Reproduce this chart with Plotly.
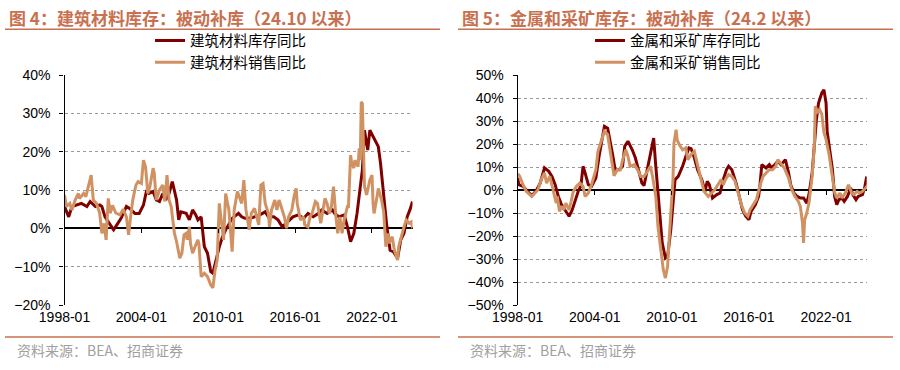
import plotly.graph_objects as go

# ---------------- data ----------------
TICK_DATES = ["1998-01-01", "2004-01-01", "2010-01-01", "2016-01-01", "2022-01-01"]
TICK_TEXT = ["1998-01", "2004-01", "2010-01", "2016-01", "2022-01"]
X_START = "1998-01-01"
X_END = "2025-03-01"

# 图4 建筑材料 库存同比 (%)
INV_L_DATES = ["1998-01","1998-05","1998-08","1999-05","1999-10","2000-01","2000-06","2000-10","2000-12","2001-03",
               "2001-07","2001-11","2002-02","2002-06","2002-11","2003-02","2003-07","2003-11","2004-03","2004-06",
               "2004-08","2004-12","2005-03","2005-06","2005-09","2005-12","2006-03","2006-06","2006-10","2006-12",
               "2007-02","2007-07","2007-10","2008-01","2008-04","2008-06","2008-09","2008-12","2009-03","2009-06",
               "2009-08","2009-11","2010-02","2010-05","2010-08","2011-02","2011-08","2011-11","2012-02","2012-07",
               "2012-12","2013-04","2013-09","2013-12","2014-05","2014-09","2015-01","2015-03","2015-07","2015-11",
               "2016-04","2016-09","2017-01","2017-06","2017-11","2018-02","2018-07","2018-12","2019-02","2019-06",
               "2019-11","2020-02","2020-05","2020-08","2020-11","2021-02","2021-04","2021-06","2021-09","2021-11",
               "2022-02","2022-05","2022-07","2022-09","2022-12","2023-03","2023-06","2023-09","2024-01","2024-04",
               "2024-07","2024-10","2025-01","2025-03"]
INV_L = [5.7,3.0,5.7,6.5,5.7,7.0,5.7,6.1,5.7,3.0,
         1.3,-0.4,0.9,2.6,5.7,5.2,3.9,3.9,6.1,10.0,
         9.1,9.6,7.4,7.0,9.1,7.4,9.1,12.2,7.4,2.2,
         4.3,3.9,2.2,4.8,3.5,2.2,3.0,-4.8,-6.5,-11.3,
         -11.7,-7.8,-4.8,-2.2,-0.4,2.6,3.9,3.0,2.6,2.6,
         3.0,3.5,4.3,3.0,3.0,2.2,0.4,0.9,2.2,3.0,
         3.5,2.6,3.9,3.0,3.9,4.8,3.9,4.8,3.9,3.0,
         3.5,0.4,-3.5,-1.3,3.9,10.0,15.2,25.6,20.4,25.6,
         23.9,22.2,21.3,17.0,8.3,0.4,-5.7,-6.1,-7.8,-3.0,
         -1.3,3.0,5.2,7.0]

# 图4 建筑材料 销售同比 (%)
SAL_L_DATES = ["1998-01","1998-03","1998-06","1998-08","1998-11","1999-02","1999-03","1999-07","1999-09","1999-11",
               "2000-02","2000-04","2000-07","2000-10","2000-12","2001-02","2001-04","2001-06","2001-08","2001-10",
               "2002-01","2002-05","2002-08","2002-11","2003-01","2003-03","2003-05","2003-08","2003-10","2004-01",
               "2004-03","2004-05","2004-07","2004-09","2004-12","2005-01","2005-03","2005-06","2005-09","2005-11",
               "2006-01","2006-03","2006-05","2006-08","2006-10","2007-01","2007-03","2007-05","2007-07","2007-08",
               "2007-10","2007-11","2008-01","2008-04","2008-06","2008-07","2008-09","2008-12","2009-03","2009-06",
               "2009-08","2009-10","2009-12","2010-02","2010-04","2010-06","2010-08","2010-11","2011-02","2011-04",
               "2011-07","2011-09","2011-11","2012-01","2012-03","2012-06","2012-08","2012-11","2013-01","2013-03",
               "2013-05","2013-07","2013-09","2013-12","2014-01","2014-03","2014-06","2014-08","2014-10","2015-01",
               "2015-03","2015-05","2015-07","2015-10","2015-12","2016-02","2016-03","2016-06","2016-09","2016-10",
               "2017-01","2017-03","2017-05","2017-08","2017-10","2018-01","2018-03","2018-05","2018-07","2018-09",
               "2018-11","2019-01","2019-03","2019-05","2019-07","2019-09","2019-11","2020-02","2020-03","2020-05",
               "2020-06","2020-08","2020-09","2020-12","2021-01","2021-02","2021-03","2021-04","2021-06","2021-08",
               "2021-11","2022-01","2022-02","2022-03","2022-05","2022-07","2022-10","2022-12","2023-02","2023-04",
               "2023-05","2023-08","2023-10","2024-01","2024-02","2024-05","2024-07","2024-09","2024-12","2025-02",
               "2025-03"]
SAL_L = [8.7,5.7,6.5,4.8,7.4,9.1,7.8,9.1,8.3,10.9,
         13.9,7.4,6.5,3.9,-1.3,1.3,-3.0,7.8,4.0,6.0,
         4.0,3.5,5.0,3.0,-1.7,3.0,7.4,11.3,12.2,11.7,
         17.8,16.0,9.1,10.9,15.7,14.5,7.4,10.0,11.3,7.0,
         13.9,7.4,5.7,-1.3,-3.5,-7.8,-6.5,-1.7,-1.3,-3.0,
         0.4,-3.9,-6.5,-4.3,-3.0,-4.3,-12.6,-11.7,-12.6,-14.8,
         -15.5,-11.0,-8.3,6.5,2.2,-3.0,9.1,4.8,-6.1,4.8,
         9.6,7.8,6.5,12.6,4.8,-0.4,3.9,5.2,3.0,0.9,
         11.3,11.7,6.5,3.9,0.4,4.8,7.4,4.8,7.4,4.8,
         3.0,0.0,3.0,4.8,8.3,10.4,6.5,2.2,3.0,0.9,
         0.4,3.0,3.9,7.0,6.5,1.3,4.8,7.8,6.5,3.9,
         5.7,10.9,3.9,-1.3,3.0,-1.3,2.2,5.7,5.7,19.1,
         17.0,15.7,17.8,16.1,20.9,17.8,33.0,32.6,10.9,8.7,
         12.6,13.9,6.5,3.9,7.0,10.4,7.4,4.3,-4.8,-1.3,
         -3.9,-2.2,-5.7,-8.3,-4.8,-1.3,0.4,2.2,1.3,1.7,
         0.0]

# 图5 金属和采矿 库存同比 (%)
INV_R_DATES = ["1998-01","1998-02","1998-06","1998-09","1999-02","1999-06","1999-10","2000-02","2000-06","2000-09",
               "2000-12","2001-03","2001-06","2001-09","2002-01","2002-04","2002-07","2002-10","2002-12","2003-02",
               "2003-04","2003-07","2003-10","2004-02","2004-05","2004-08","2004-10","2005-01","2005-04","2005-06",
               "2005-08","2005-12","2006-03","2006-05","2006-08","2006-12","2007-03","2007-06","2007-09","2007-11",
               "2008-02","2008-05","2008-08","2008-10","2009-01","2009-04","2009-07","2009-09","2009-12","2010-02",
               "2010-04","2010-07","2010-11","2011-02","2011-05","2011-07","2011-10","2012-01","2012-05","2012-08",
               "2012-10","2012-12","2013-03","2013-07","2013-10","2014-01","2014-04","2014-06","2014-09","2015-01",
               "2015-04","2015-07","2015-10","2016-01","2016-03","2016-07","2016-10","2016-11","2017-01","2017-05",
               "2017-08","2017-10","2018-01","2018-04","2018-07","2018-11","2019-02","2019-04","2019-07","2019-10",
               "2020-01","2020-04","2020-07","2020-09","2020-12","2021-02","2021-04","2021-06","2021-09","2021-11",
               "2022-01","2022-02","2022-04","2022-07","2022-09","2022-11","2023-01","2023-04","2023-06","2023-09",
               "2023-12","2024-02","2024-05","2024-07","2024-11","2025-01","2025-03"]
INV_R = [5.2,2.3,1.6,0.1,-2.5,-0.6,3.0,9.6,8.1,5.9,
         2.3,-2.8,-6.4,-8.6,-11.4,-8.6,-4.2,0.1,1.6,10.3,
         7.4,2.3,1.6,5.2,14.6,21.9,27.7,26.9,20.4,14.6,
         8.8,8.8,10.3,19.0,21.2,17.5,13.9,8.8,3.0,1.9,
         8.8,16.8,22.6,10.3,-8.6,-23.0,-29.6,-28.9,-17.2,-5.7,
         4.5,5.9,10.3,14.6,18.3,18.0,14.0,8.8,4.5,-0.6,
         3.8,2.3,-3.5,-2.0,-1.3,4.5,8.8,10.3,8.8,3.0,
         -2.8,-8.6,-11.4,-12.9,-9.3,-6.4,-2.8,0.9,11.0,9.6,
         11.0,9.6,11.0,12.5,11.0,13.2,7.4,2.3,-1.3,-2.8,
         -3.5,-3.5,-5.7,-2.0,7.4,19.0,30.6,37.8,42.2,43.6,
         37.8,25.5,18.8,8.8,-2.8,-6.4,-4.2,-3.5,-4.9,-2.8,
         0.9,-2.0,-4.2,-2.8,-2.0,0.9,5.9]

# 图5 金属和采矿 销售同比 (%)
SAL_R_DATES = ["1998-01","1998-03","1998-06","1998-09","1999-02","1999-05","1999-08","1999-11","2000-02","2000-04",
               "2000-07","2000-10","2001-01","2001-02","2001-04","2001-06","2001-08","2001-10","2002-01","2002-03",
               "2002-05","2002-08","2002-11","2003-02","2003-04","2003-07","2003-10","2004-02","2004-04","2004-07",
               "2004-10","2005-01","2005-04","2005-06","2005-07","2005-10","2006-01","2006-03","2006-06","2006-08",
               "2006-10","2007-02","2007-05","2007-08","2007-11","2008-02","2008-05","2008-07","2008-10","2008-12",
               "2009-03","2009-05","2009-07","2009-09","2009-11","2010-02","2010-03","2010-05","2010-06","2010-08",
               "2010-11","2011-02","2011-04","2011-07","2011-10","2012-01","2012-04","2012-07","2012-11","2013-02",
               "2013-05","2013-08","2013-11","2014-01","2014-03","2014-06","2014-09","2014-12","2015-03","2015-06",
               "2015-09","2015-12","2016-02","2016-05","2016-08","2016-11","2017-02","2017-05","2017-08","2017-11",
               "2018-02","2018-04","2018-07","2018-10","2019-02","2019-05","2019-08","2019-11","2020-01","2020-03",
               "2020-04","2020-05","2020-07","2020-09","2020-12","2021-02","2021-03","2021-05","2021-07","2021-09",
               "2021-11","2022-01","2022-04","2022-07","2022-09","2022-11","2023-02","2023-04","2023-07","2023-10",
               "2024-01","2024-03","2024-06","2024-08","2024-11","2025-02","2025-03"]
SAL_R = [7.1,5.9,2.3,-0.6,-2.8,-1.3,0.1,4.5,7.4,3.0,
         5.9,0.1,-5.7,-2.8,-9.3,-7.1,-8.6,-5.7,-8.6,-4.9,
         -0.6,1.6,3.0,1.6,-2.8,-1.3,2.3,8.8,16.8,21.2,
         25.5,24.1,16.1,10.3,6.2,8.8,8.8,13.0,17.5,14.6,
         10.3,11.0,8.8,5.9,5.9,8.0,10.3,5.9,-2.8,-15.8,
         -25.9,-34.6,-38.3,-33.2,-17.2,4.5,20.4,26.2,21.7,19.7,
         17.5,18.3,13.2,15.5,16.8,10.3,5.2,-0.6,-2.8,-1.3,
         0.1,2.3,4.5,2.3,4.5,6.7,5.9,3.8,-1.3,-6.4,
         -10.0,-11.4,-8.6,-6.4,-4.2,1.6,5.9,7.4,8.8,8.8,
         10.3,13.2,11.6,9.6,5.2,0.1,-2.8,-4.9,-7.1,-14.3,
         -23.0,-13.0,-10.0,-5.7,5.9,19.0,36.4,34.0,35.0,33.0,
         25.0,22.0,15.0,5.0,-1.0,-3.5,-1.3,-3.5,-1.3,2.3,
         -1.3,-2.0,-0.6,-1.3,-0.6,0.9,1.6]

NAMES_L = ["建筑材料库存同比", "建筑材料销售同比"]
NAMES_R = ["金属和采矿库存同比", "金属和采矿销售同比"]
TITLE_L = "图 4：建筑材料库存：被动补库（24.10 以来）"
TITLE_R = "图 5：金属和采矿库存：被动补库（24.2 以来）"
SOURCE = "资料来源：BEA、招商证券"
Y_RANGE_L = [-20, 40]
Y_RANGE_R = [-50, 50]

# ---------------- style ----------------
W, H = 900, 370
DARK = "#800000"
TAN = "#D09262"
ACCENT = "#C8704F"
NUM_FONT = "Liberation Sans, Arial, sans-serif"
CJK_FONT = "Noto Sans CJK SC, sans-serif"


def px_x(p):
    return p / W


def px_y(p):
    return (H - p) / H


Y_DOM = [px_y(305), px_y(75)]
X_DOM_L = [px_x(64.5), px_x(412.5)]
X_DOM_R = [px_x(517.7), px_x(866.7)]


def d(lst):
    return [s + "-01" for s in lst]


fig = go.Figure()

fig.add_trace(go.Scatter(x=d(INV_L_DATES), y=INV_L, name=NAMES_L[0], mode="lines",
                         line=dict(color=DARK, width=3), xaxis="x", yaxis="y", legend="legend"))
fig.add_trace(go.Scatter(x=d(SAL_L_DATES), y=SAL_L, name=NAMES_L[1], mode="lines",
                         line=dict(color=TAN, width=3), xaxis="x", yaxis="y", legend="legend"))
fig.add_trace(go.Scatter(x=d(INV_R_DATES), y=INV_R, name=NAMES_R[0], mode="lines",
                         line=dict(color=DARK, width=3), xaxis="x2", yaxis="y2", legend="legend2"))
fig.add_trace(go.Scatter(x=d(SAL_R_DATES), y=SAL_R, name=NAMES_R[1], mode="lines",
                         line=dict(color=TAN, width=3), xaxis="x2", yaxis="y2", legend="legend2"))
# carriers for tick marks on the zero line
fig.add_trace(go.Scatter(x=TICK_DATES, y=[0] * len(TICK_DATES), mode="lines", opacity=0,
                         line=dict(width=0), xaxis="x3", yaxis="y", showlegend=False, hoverinfo="skip"))
fig.add_trace(go.Scatter(x=TICK_DATES, y=[0] * len(TICK_DATES), mode="lines", opacity=0,
                         line=dict(width=0), xaxis="x4", yaxis="y2", showlegend=False, hoverinfo="skip"))


def zero_pos(rng):
    return Y_DOM[0] + (0 - rng[0]) / (rng[1] - rng[0]) * (Y_DOM[1] - Y_DOM[0])


xbase = dict(type="date", range=[X_START, X_END], tickmode="array", tickvals=TICK_DATES,
             ticktext=TICK_TEXT, ticks="", showgrid=False, zeroline=False, showline=False,
             tickfont=dict(family=NUM_FONT, size=14, color="#000"), fixedrange=True,
             automargin=False, ticklabelstandoff=2)
xtick = dict(type="date", range=[X_START, X_END], tickmode="array", tickvals=TICK_DATES,
             showticklabels=False, ticks="outside", ticklen=4, tickwidth=1, tickcolor="#000",
             showgrid=False, zeroline=False, showline=False, anchor="free", automargin=False)
ybase = dict(dtick=10, ticksuffix="%", showline=True, linecolor="#000", linewidth=1.3,
             ticks="outside", ticklen=4, tickwidth=1, tickcolor="#000",
             showgrid=True, gridcolor="#9a9a9a", griddash="dot", gridwidth=1,
             zeroline=True, zerolinecolor="#000", zerolinewidth=1.5,
             tickfont=dict(family=NUM_FONT, size=14, color="#000"), ticklabelstandoff=6,
             domain=Y_DOM, fixedrange=True, automargin=False)

fig.update_layout(
    width=W, height=H, autosize=False,
    margin=dict(l=0, r=0, t=0, b=0, pad=0, autoexpand=False),
    paper_bgcolor="white", plot_bgcolor="white",
    hovermode=False,
    xaxis=dict(xbase, domain=X_DOM_L, anchor="y"),
    xaxis2=dict(xbase, domain=X_DOM_R, anchor="y2"),
    xaxis3=dict(xtick, overlaying="x", position=zero_pos(Y_RANGE_L)),
    xaxis4=dict(xtick, overlaying="x2", position=zero_pos(Y_RANGE_R)),
    yaxis=dict(ybase, range=Y_RANGE_L, anchor="x"),
    yaxis2=dict(ybase, range=Y_RANGE_R, anchor="x2"),
    legend=dict(x=px_x(150), y=px_y(24.5), xanchor="left", yanchor="top",
                bgcolor="rgba(0,0,0,0)", borderwidth=0,
                font=dict(family=CJK_FONT, size=14.5, color="#000")),
    legend2=dict(x=px_x(590), y=px_y(24.5), xanchor="left", yanchor="top",
                 bgcolor="rgba(0,0,0,0)", borderwidth=0,
                 font=dict(family=CJK_FONT, size=14.5, color="#000")),
    showlegend=True,
)

# titles, rules and source notes
for x0, x1, title in [(5, 440, TITLE_L), (458, 893, TITLE_R)]:
    fig.add_annotation(x=px_x(x0 + 1.5), y=px_y(17.5), xref="paper", yref="paper",
                       xanchor="left", yanchor="middle", showarrow=False,
                       text="<b>" + title + "</b>",
                       font=dict(family=CJK_FONT, size=17, color=ACCENT))
    fig.add_annotation(x=px_x(x0 + 10), y=px_y(350), xref="paper", yref="paper",
                       xanchor="left", yanchor="middle", showarrow=False,
                       text=SOURCE, font=dict(family=CJK_FONT, size=14, color="#a0a0a0"))
    for yy in (29.3, 337):
        fig.add_shape(type="line", xref="paper", yref="paper",
                      x0=px_x(x0), x1=px_x(x1), y0=px_y(yy), y1=px_y(yy),
                      line=dict(color=ACCENT, width=1.5))

# the figure fills the 900x370 window exactly: drop the page's default body margin
fig.write_html("out.html", config={"displayModeBar": False},
               post_script="document.body.style.margin='0';")
